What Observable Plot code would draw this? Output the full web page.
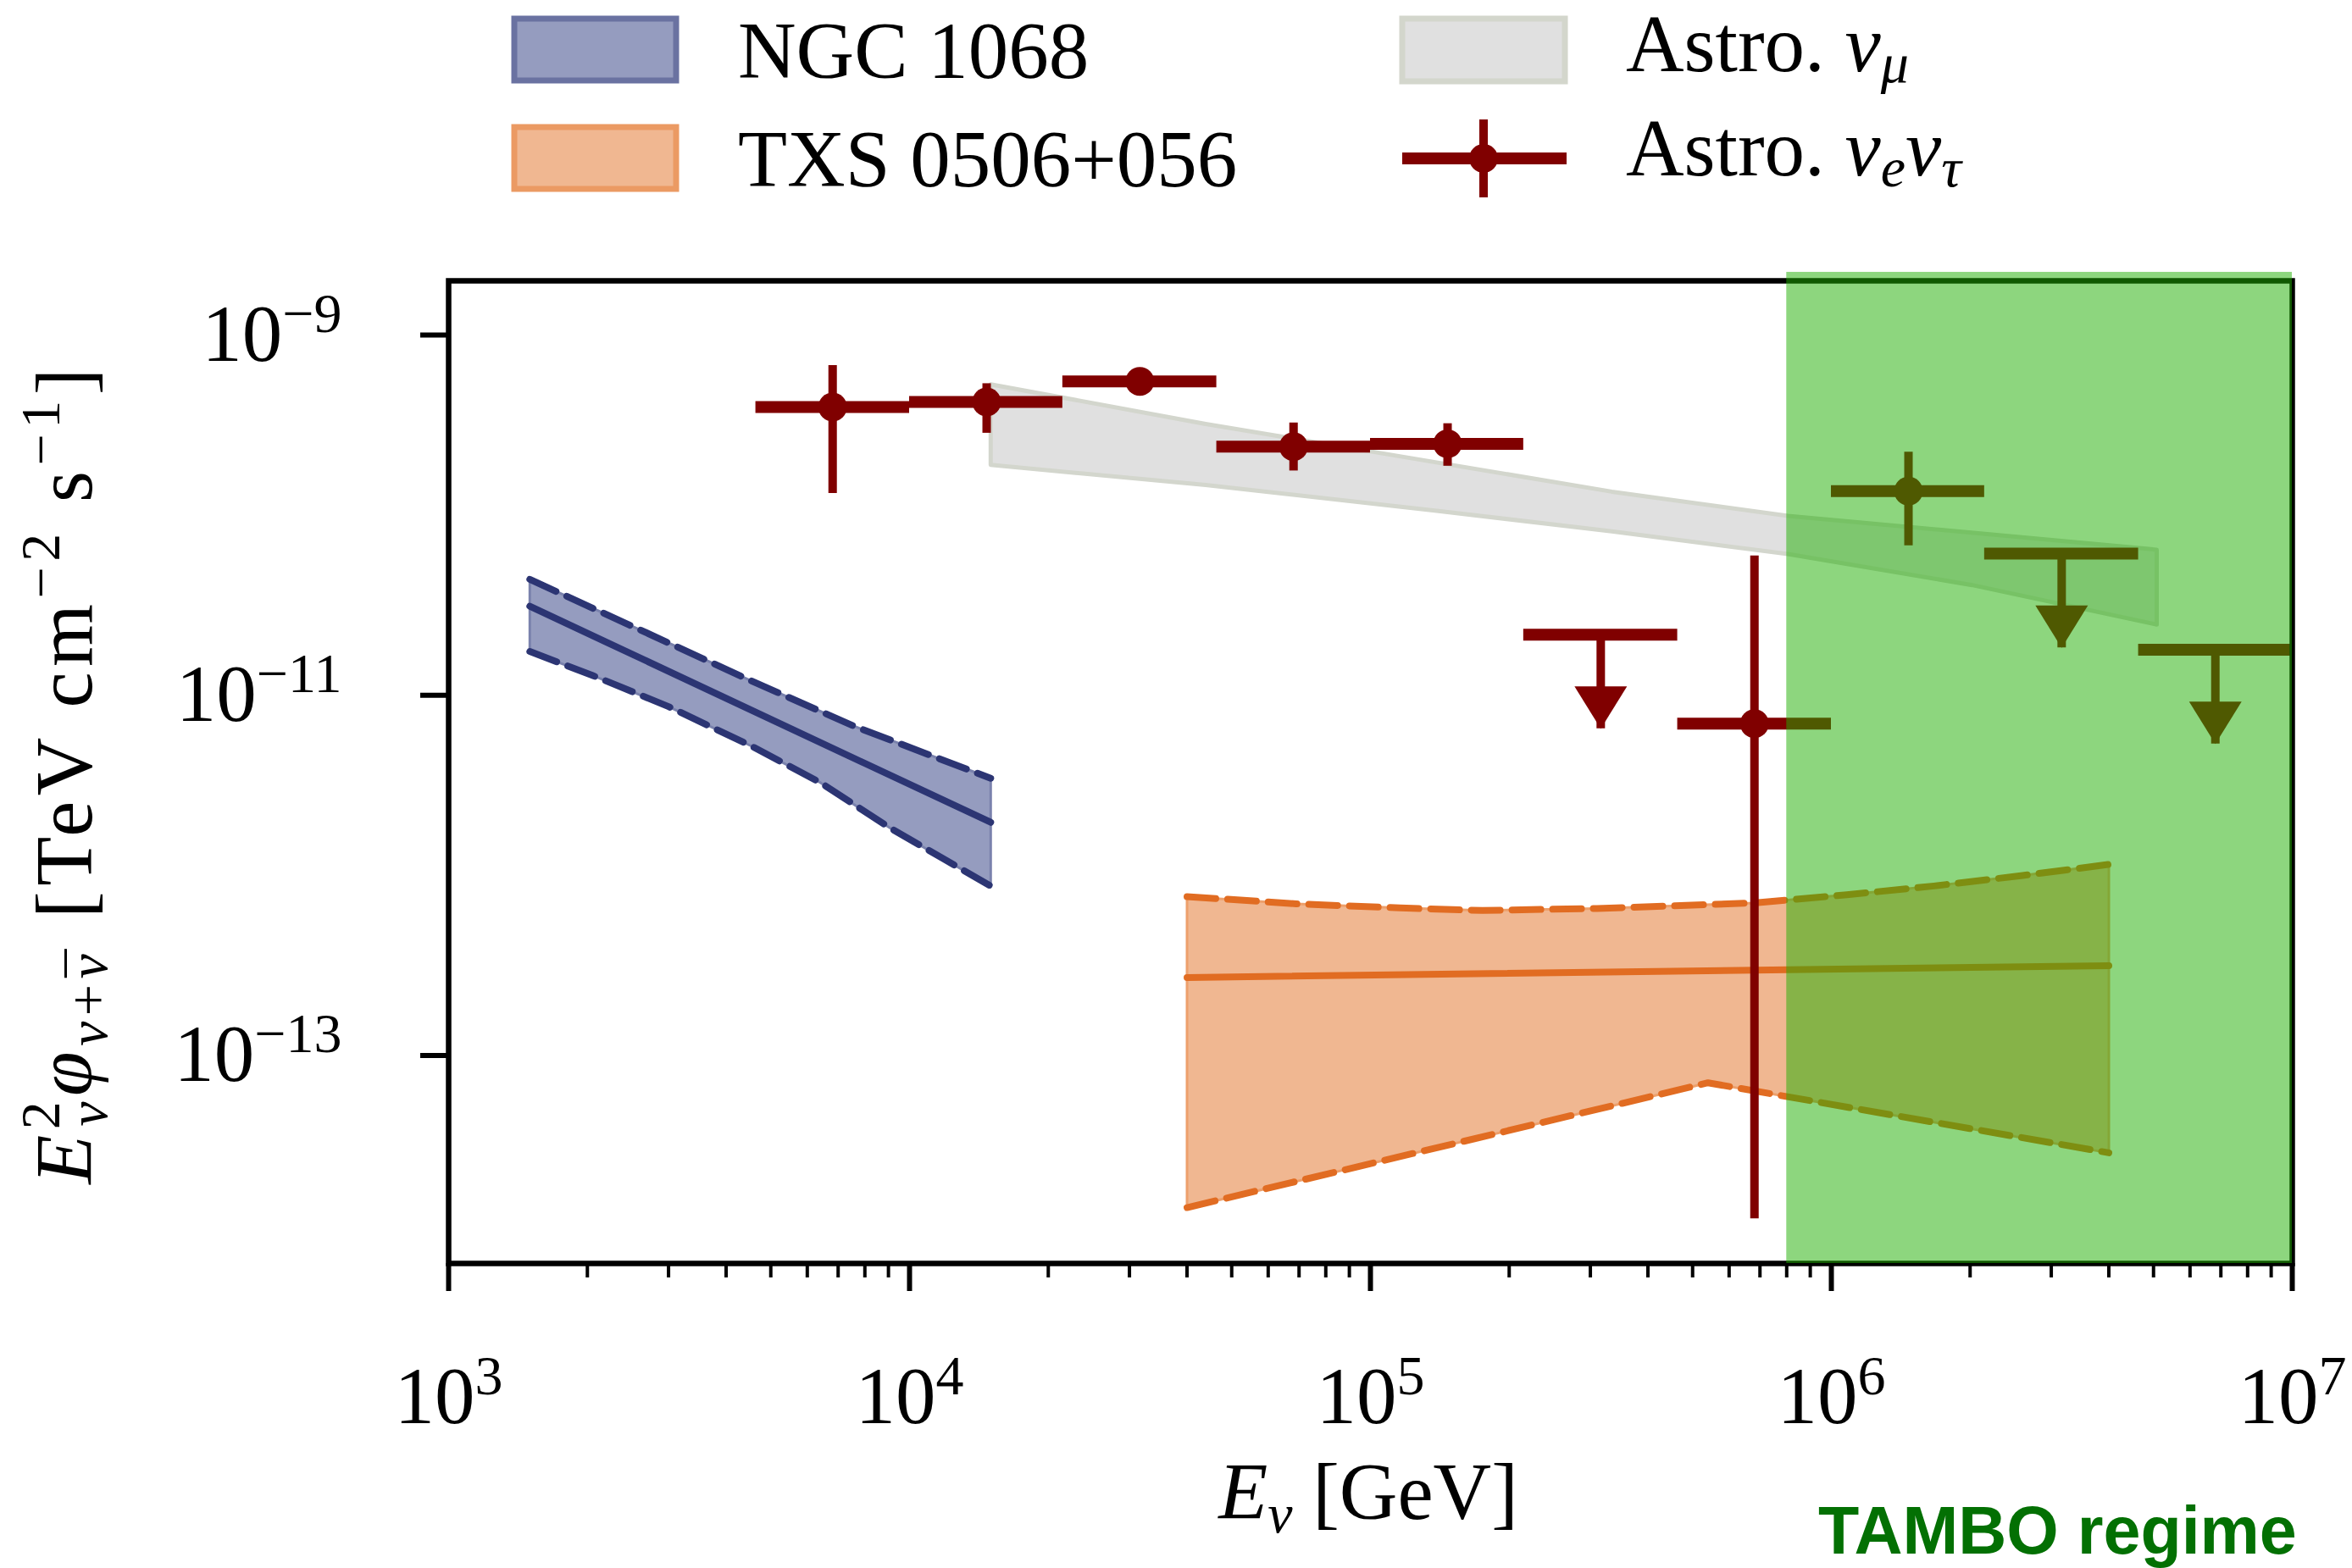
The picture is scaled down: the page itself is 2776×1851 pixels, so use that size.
<!DOCTYPE html>
<html>
<head>
<meta charset="utf-8">
<script src="https://cdn.jsdelivr.net/npm/d3@7"></script>
<script src="https://cdn.jsdelivr.net/npm/@observablehq/plot@0.6"></script>
<style>
  html, body { margin: 0; padding: 0; background: #ffffff; }
  svg { display: block; }
</style>
</head>
<body>
<div id="chart"></div>
<script>
// ---------------- DATA ----------------
// Astro. nu_e nu_tau segmented flux (E in GeV, E^2 phi in TeV cm^-2 s^-1)
const binLow    = [4.64e3, 1.0e4, 2.15e4, 4.64e4, 1.0e5, 2.15e5, 4.64e5, 1.0e6, 2.15e6, 4.64e6];
const binHigh   = [1.0e4, 2.15e4, 4.64e4, 1.0e5, 2.15e5, 4.64e5, 1.0e6, 2.15e6, 4.64e6, 1.0e7];
const binCenter = [6.81e3, 1.47e4, 3.16e4, 6.81e4, 1.47e5, 3.16e5, 6.81e5, 1.47e6, 3.16e6, 6.81e6];
const flux      = [3.98e-10, 4.25e-10, 5.53e-10, 2.40e-10, 2.49e-10, 2.17e-11, 6.95e-12, 1.36e-10, 6.11e-11, 1.79e-11];
const fluxLow   = [1.32e-10, 2.85e-10, 4.75e-10, 1.76e-10, 1.87e-10, null, 1.24e-14, 6.76e-11, null, null];
const fluxHigh  = [6.78e-10, 5.37e-10, 6.45e-10, 3.25e-10, 3.22e-10, null, 5.93e-11, 2.24e-10, null, null];
const upperLimit = [false, false, false, false, false, true, false, false, true, true];

// Astro. nu_mu band
const numuTopE  = [1.5e4, 4.39e4, 1.02e5, 3.34e5, 8.05e5, 5.08e6];
const numuTopF  = [5.32e-10, 3.21e-10, 2.24e-10, 1.35e-10, 9.91e-11, 6.43e-11];
const numuBotE  = [1.5e4, 4.39e4, 1.38e5, 3.34e5, 8.05e5, 2.02e6, 5.08e6];
const numuBotF  = [1.90e-10, 1.47e-10, 1.06e-10, 8.13e-11, 6.08e-11, 4.09e-11, 2.47e-11];

// NGC 1068 band
const ngcTopE   = [1.5e3, 2.61e3, 4.54e3, 7.62e3, 1.5e4];
const ngcTopF   = [4.40e-11, 2.30e-11, 1.20e-11, 6.70e-12, 3.46e-12];
const ngcMidE   = [1.5e3, 1.5e4];
const ngcMidF   = [3.12e-11, 1.97e-12];
const ngcBotE   = [1.5e3, 2.05e3, 3.0e3, 4.54e3, 6.41e3, 9.08e3, 1.5e4];
const ngcBotF   = [1.75e-11, 1.29e-11, 8.65e-12, 5.22e-12, 3.27e-12, 1.83e-12, 8.73e-13];

// TXS 0506+056 band
const txsTopE   = [4.0e4, 6.9e4, 1.16e5, 1.75e5, 3.1e5, 4.5e5, 6.8e5, 1.08e6, 1.67e6, 2.6e6, 4.0e6];
const txsTopF   = [7.62e-13, 6.95e-13, 6.59e-13, 6.38e-13, 6.55e-13, 6.76e-13, 7.03e-13, 7.80e-13, 8.73e-13, 9.98e-13, 1.15e-12];
const txsMidE   = [4.0e4, 4.0e6];
const txsMidF   = [2.71e-13, 3.15e-13];
const txsBotE   = [4.0e4, 5.4e5, 4.0e6];
const txsBotF   = [1.43e-14, 7.05e-14, 2.88e-14];

// TAMBO regime
const tamboE    = [8.0e5, 1.0e7];
const tamboF    = [7e-15, 2.23e-9];

// Axes
const xDomain   = [1e3, 1e7];
const yDomain   = [7e-15, 2e-9];
const xMajor    = [1e3, 1e4, 1e5, 1e6, 1e7];
const yMajor    = [1e-9, 1e-11, 1e-13];

// Legend
const legendBands = ["NGC 1068", "TXS 0506+056"];

// ---------------- STYLE ----------------
const SERIF = "'Liberation Serif', 'Times New Roman', serif";
const maroon = "#800000";
const ulFactor = 0.3; // arrow length of upper limits
const xMinor = [];
for (const dec of [1e3, 1e4, 1e5, 1e6]) for (let k = 2; k <= 9; k++) xMinor.push(k * dec);

const pts = binCenter.map((e, i) => ({e, lo: binLow[i], hi: binHigh[i], f: flux[i], fl: fluxLow[i], fh: fluxHigh[i], ul: upperLimit[i]}));
const measured = pts.filter(d => !d.ul);
const limits = pts.filter(d => d.ul).map(d => ({...d, tip: d.f * ulFactor}));

const toPts = (xs, ys) => xs.map((x, i) => ({x, y: ys[i]}));
const poly = (xs1, ys1, xs2, ys2) => {
  const p = [...toPts(xs1, ys1), ...toPts(xs2, ys2).reverse()];
  p.push(p[0]);
  return p;
};

const triDown = {draw(ctx) { ctx.moveTo(-31, -50); ctx.lineTo(31, -50); ctx.lineTo(0, 0); ctx.closePath(); }};
const expFmt = d => "10^" + Math.round(Math.log10(d));

const ngcLine = "#2c3573", txsLine = "#e16c22";
const dash = "34,14";

const chart = Plot.plot({
  width: 2776, height: 1851,
  marginLeft: 529, marginRight: 71, marginTop: 331, marginBottom: 360,
  x: {type: "log", domain: xDomain},
  y: {type: "log", domain: yDomain},
  style: {fontFamily: SERIF, fontSize: "95px", background: "#ffffff", color: "#000", overflow: "visible"},
  marks: [
    // Astro nu_mu band
    Plot.line(poly(numuTopE, numuTopF, numuBotE, numuBotF), {x: "x", y: "y", fill: "#e0e0e0", stroke: "#d3d6cd", strokeWidth: 5}),
    // NGC 1068
    Plot.line(poly(ngcTopE, ngcTopF, ngcBotE, ngcBotF), {x: "x", y: "y", fill: "#959cbf", stroke: "#7a82ad", strokeWidth: 3}),
    Plot.line(toPts(ngcTopE, ngcTopF), {x: "x", y: "y", stroke: ngcLine, strokeWidth: 8, strokeDasharray: dash}),
    Plot.line(toPts(ngcBotE, ngcBotF), {x: "x", y: "y", stroke: ngcLine, strokeWidth: 8, strokeDasharray: dash}),
    Plot.line(toPts(ngcMidE, ngcMidF), {x: "x", y: "y", stroke: ngcLine, strokeWidth: 8}),
    // TXS 0506+056
    Plot.line(poly(txsTopE, txsTopF, txsBotE, txsBotF), {x: "x", y: "y", fill: "#f0b791", stroke: "#eda06c", strokeWidth: 3}),
    Plot.line(toPts(txsTopE, txsTopF), {x: "x", y: "y", stroke: txsLine, strokeWidth: 8, strokeDasharray: dash}),
    Plot.line(toPts(txsBotE, txsBotF), {x: "x", y: "y", stroke: txsLine, strokeWidth: 8, strokeDasharray: dash}),
    Plot.line(toPts(txsMidE, txsMidF), {x: "x", y: "y", stroke: txsLine, strokeWidth: 8}),
    // Astro nu_e nu_tau points
    Plot.ruleY(pts, {y: "f", x1: "lo", x2: "hi", stroke: maroon, strokeWidth: 14}),
    Plot.ruleX(measured, {x: "e", y1: "fl", y2: "fh", stroke: maroon, strokeWidth: 10}),
    Plot.ruleX(limits, {x: "e", y1: "f", y2: "tip", stroke: maroon, strokeWidth: 10}),
    Plot.dot(measured, {x: "e", y: "f", r: 17, fill: maroon, stroke: null}),
    Plot.dot(limits, {x: "e", y: "tip", symbol: triDown, fill: maroon, stroke: null}),
    // frame & axes
    Plot.frame({stroke: "#000", strokeWidth: 6.5}),
    Plot.axisX({ticks: xMinor, tickSize: 17, strokeWidth: 4, tickFormat: () => "", label: null}),
    Plot.axisX({ticks: xMajor, tickSize: 33, tickPadding: 88, strokeWidth: 6, tickFormat: expFmt, label: null}),
    Plot.axisY({ticks: yMajor, tickSize: 33, tickPadding: 93, strokeWidth: 6, tickFormat: expFmt, label: null}),
    // TAMBO regime overlay
    Plot.rect([{x1: tamboE[0], x2: tamboE[1], y1: tamboF[0], y2: tamboF[1]}], {x1: "x1", x2: "x2", y1: "y1", y2: "y2", fill: "#1fae02", fillOpacity: 0.51})
  ]
});
document.getElementById("chart").append(chart);

const svg = d3.select(chart);

// superscript tick labels
function supify(sel) {
  sel.each(function() {
    const t = d3.select(this);
    const m = t.text().match(/^10\^(-?\d+)$/);
    if (!m) return;
    const exp = m[1].replace("-", "\u2212");
    t.text("10");
    t.append("tspan").attr("font-size", "66px").attr("dy", "-34").text(exp);
  });
}
svg.selectAll('[aria-label="x-axis tick label"] text').call(supify);
svg.selectAll('[aria-label="y-axis tick label"] text').call(supify);

// rich text helper
function rich(g, x, y, parts, opts = {}) {
  const t = g.append("text").attr("x", x).attr("y", y)
    .attr("font-family", opts.family || SERIF).attr("font-size", opts.size || 95)
    .attr("fill", opts.fill || "#000")
    .attr("text-anchor", opts.anchor || "start");
  if (opts.transform) t.attr("transform", opts.transform);
  if (opts.weight) t.attr("font-weight", opts.weight);
  if (opts.spacing) t.attr("letter-spacing", opts.spacing);
  let cur = 0;
  for (const p of parts) {
    const s = t.append("tspan").text(p.t);
    const target = p.shift || 0;
    if (target !== cur) s.attr("dy", -(target - cur));
    cur = target;
    if (p.it) s.attr("font-style", "italic");
    if (p.small) s.attr("font-size", opts.small || 66);
    if (p.dx) s.attr("dx", p.dx);
  }
  return t;
}

// Legend
const leg = svg.append("g").attr("aria-label", "legend");
leg.append("rect").attr("x", 607).attr("y", 22).attr("width", 191).attr("height", 73)
  .attr("fill", "#959cbf").attr("stroke", "#6a72a1").attr("stroke-width", 7);
leg.append("rect").attr("x", 607).attr("y", 150).attr("width", 191).attr("height", 73)
  .attr("fill", "#f0b791").attr("stroke", "#eb9a63").attr("stroke-width", 7);
leg.append("rect").attr("x", 1655).attr("y", 22).attr("width", 192).attr("height", 74)
  .attr("fill", "#e0e0e0").attr("stroke", "#d3d6cc").attr("stroke-width", 7);
leg.append("line").attr("x1", 1655).attr("x2", 1849).attr("y1", 187).attr("y2", 187)
  .attr("stroke", maroon).attr("stroke-width", 14);
leg.append("line").attr("x1", 1751).attr("x2", 1751).attr("y1", 141).attr("y2", 233)
  .attr("stroke", maroon).attr("stroke-width", 10);
leg.append("circle").attr("cx", 1751).attr("cy", 187).attr("r", 17).attr("fill", maroon);

rich(leg, 871, 92, [{t: legendBands[0]}]);
rich(leg, 871, 220, [{t: legendBands[1]}]);
rich(leg, 1919, 84, [{t: "Astro. "}, {t: "\u03bd", it: 1}, {t: "\u03bc", it: 1, small: 1, shift: -13}]);
rich(leg, 1919, 207, [{t: "Astro. "}, {t: "\u03bd", it: 1}, {t: "e", it: 1, small: 1, shift: -13},
  {t: "\u03bd", it: 1}, {t: "\u03c4", it: 1, small: 1, shift: -13}]);

// Axis titles
rich(svg, 1615, 1793, [{t: "E", it: 1}, {t: "\u03bd", it: 1, small: 1, shift: -16}, {t: " [GeV]"}], {anchor: "middle"});
rich(svg, 0, 0, [
  {t: "E", it: 1}, {t: "2", small: 1, shift: 38}, {t: "\u03bd", it: 1, small: 1, shift: -18, dx: -36},
  {t: "\u03c6", it: 1}, {t: "\u03bd", it: 1, small: 1, shift: -18}, {t: "+", small: 1, shift: -18},
  {t: "\u03bd", it: 1, small: 1, shift: -18}, {t: "\u00af", small: 1, shift: -18, dx: -34},
  {t: " [TeV cm"}, {t: "\u22122", small: 1, shift: 38}, {t: " s"}, {t: "\u22121", small: 1, shift: 38}, {t: "]"}
], {anchor: "middle", transform: "translate(108,913) rotate(-90)", spacing: 6.5});

// TAMBO regime caption
rich(svg, 2146, 1834, [{t: "TAMBO regime"}], {family: "'Liberation Sans', Arial, sans-serif", size: 79, weight: "bold", fill: "#037003"});
</script>
</body>
</html>
